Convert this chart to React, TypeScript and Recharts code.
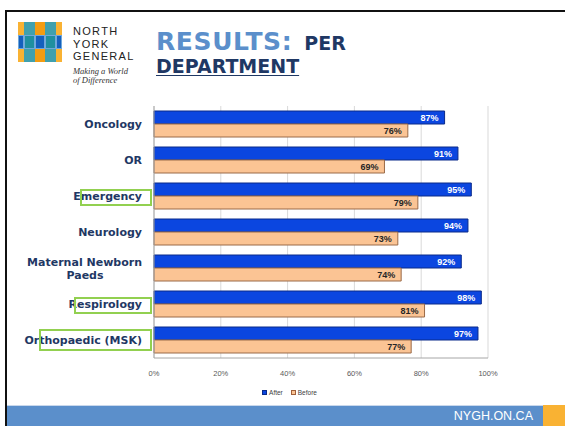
import React from 'react'
import { Bar, BarChart, CartesianGrid, LabelList, XAxis, YAxis } from 'recharts'

const departments = [
  'Oncology',
  'OR',
  'Emergency',
  'Neurology',
  'Maternal Newborn Paeds',
  'Respirology',
  'Orthopaedic (MSK)',
]
const afterValues = [87, 91, 95, 94, 92, 98, 97]
const beforeValues = [76, 69, 79, 73, 74, 81, 77]
const xTicks = [0, 20, 40, 60, 80, 100]

const data = departments.map((name, i) => ({
  name,
  after: afterValues[i],
  before: beforeValues[i],
}))

const NAVY = '#1f3864'
const BLUE_BAR = '#0b46e0'
const BEFORE_BAR = '#fbc494'
const SLIDE_BLUE = '#5b8fcb'
const GREEN = '#92d050'

const catFont = { fontFamily: 'DejaVu Sans', fontWeight: 700, fontSize: 11, fill: NAVY }

function CategoryTick({ x, y, payload }: any) {
  const v: string = payload.value
  if (v === 'Maternal Newborn Paeds') {
    return (
      <g>
        <text x={x} y={y - 6} dy={4} textAnchor="end" style={catFont}>
          Maternal Newborn
        </text>
        <text x={x - 57} y={y + 7} dy={4} textAnchor="middle" style={catFont}>
          Paeds
        </text>
      </g>
    )
  }
  return (
    <text x={x} y={y} dy={4} textAnchor="end" style={catFont}>
      {v}
    </text>
  )
}

function LegendBox() {
  const item = (color: string, border: string, label: string) => (
    <span style={{ display: 'inline-flex', alignItems: 'center', marginRight: 8 }}>
      <span
        style={{
          width: 5,
          height: 5,
          background: color,
          border: `1px solid ${border}`,
          marginRight: 2,
          boxSizing: 'border-box',
        }}
      />
      <span>{label}</span>
    </span>
  )
  return (
    <div
      style={{
        position: 'absolute',
        top: 389,
        left: 0,
        width: 565,
        display: 'flex',
        justifyContent: 'center',
        paddingLeft: 22,
        boxSizing: 'border-box',
        fontFamily: 'Liberation Sans',
        fontSize: 6.5,
        color: '#404040',
      }}
    >
      {item(BLUE_BAR, '#0a2a8a', 'After')}
      {item(BEFORE_BAR, '#a0603a', 'Before')}
    </div>
  )
}

function Logo() {
  const Y = '#f9b233'
  const O = '#f39c12'
  const T = '#1f8fa0'
  const B = '#1560bd'
  const L = '#6fa8dc'
  const rows = [
    [Y, T, O, T, Y],
    [B, T, B, T, B],
    [Y, T, O, T, Y],
  ]
  const colW = [6, 11, 10, 11, 6]
  const rowH = [13, 14, 13]
  return (
    <div style={{ position: 'absolute', left: 18, top: 22, width: 44, height: 40 }}>
      {rows.map((r, ri) => (
        <div key={ri} style={{ display: 'flex', height: rowH[ri] }}>
          {r.map((c, ci) => (
            <div
              key={ci}
              style={{
                width: colW[ci],
                height: rowH[ri],
                background: c,
                opacity: (ci === 1 || ci === 3) && ri !== 1 ? 0.85 : 1,
                boxShadow: ri === 1 ? `inset 0 0 0 1px ${L}` : 'none',
              }}
            />
          ))}
        </div>
      ))}
    </div>
  )
}

const logoLine = {
  position: 'absolute' as const,
  left: 73,
  fontFamily: 'Liberation Sans',
  fontSize: 11,
  letterSpacing: 1.3,
  lineHeight: '11px',
  color: '#222',
  whiteSpace: 'nowrap' as const,
}

export default function App() {
  return (
    <div
      style={{
        position: 'absolute',
        left: 0,
        top: 0,
        width: 565,
        height: 426,
        background: '#fff',
        overflow: 'hidden',
      }}
    >
      {/* slide frame */}
      <div style={{ position: 'absolute', left: 5, top: 10, width: 560, height: 2, background: '#111' }} />
      <div style={{ position: 'absolute', left: 5, top: 10, width: 2, height: 416, background: '#111' }} />

      <Logo />
      <div style={{ ...logoLine, top: 26 }}>NORTH</div>
      <div style={{ ...logoLine, top: 38.5 }}>YORK</div>
      <div style={{ ...logoLine, top: 51 }}>GENERAL</div>
      <div
        style={{
          position: 'absolute',
          left: 73,
          top: 67,
          fontFamily: 'Liberation Serif',
          fontStyle: 'italic',
          fontSize: 8.5,
          lineHeight: '8.5px',
          color: '#333',
        }}
      >
        Making a World
        <br />
        of Difference
      </div>

      <div
        style={{
          position: 'absolute',
          left: 156,
          top: 29,
          fontFamily: 'DejaVu Sans',
          fontWeight: 700,
          lineHeight: '25px',
          whiteSpace: 'nowrap',
        }}
      >
        <span style={{ fontSize: 25, color: SLIDE_BLUE, letterSpacing: 0.6 }}>RESULTS:</span>
        <span style={{ fontSize: 19, color: NAVY, marginLeft: 12 }}>PER</span>
      </div>
      <div
        style={{
          position: 'absolute',
          left: 156,
          top: 57,
          fontFamily: 'DejaVu Sans',
          fontWeight: 700,
          fontSize: 19,
          lineHeight: '19px',
          color: NAVY,
          textDecoration: 'underline',
          textDecorationThickness: 1,
          textUnderlineOffset: 2,
          whiteSpace: 'nowrap',
        }}
      >
        DEPARTMENT
      </div>

      <div style={{ position: 'absolute', left: 0, top: 0 }}>
        <BarChart
          width={565}
          height={426}
          data={data}
          layout="vertical"
          margin={{ top: 106, right: 77, left: 4, bottom: 48 }}
          barCategoryGap={10}
          barGap={0}
        >
          <CartesianGrid horizontal={false} stroke="#d9d9d9" />
          <XAxis
            type="number"
            domain={[0, 100]}
            ticks={xTicks}
            tickFormatter={(v) => `${v}%`}
            tick={{ fontSize: 7.5, fill: '#595959', fontFamily: 'Liberation Sans' }}
            tickLine={false}
            axisLine={{ stroke: '#a6a6a6' }}
            tickMargin={7}
            height={20}
          />
          <YAxis
            type="category"
            dataKey="name"
            width={150}
            tick={<CategoryTick />}
            tickLine={false}
            axisLine={{ stroke: '#a6a6a6' }}
            tickMargin={6}
            interval={0}
          />
          <Bar dataKey="after" fill={BLUE_BAR} stroke="#0a2a8a" strokeWidth={1} barSize={13} isAnimationActive={false}>
            <LabelList
              dataKey="after"
              position="insideRight"
              offset={6}
              formatter={(v: any) => `${v}%`}
              style={{ fill: '#fff', fontSize: 9, fontWeight: 700, fontFamily: 'Liberation Sans' }}
            />
          </Bar>
          <Bar dataKey="before" fill={BEFORE_BAR} stroke="#9a6a48" strokeWidth={1} barSize={13} isAnimationActive={false}>
            <LabelList
              dataKey="before"
              position="insideRight"
              offset={6}
              formatter={(v: any) => `${v}%`}
              style={{ fill: '#262626', fontSize: 9, fontWeight: 700, fontFamily: 'Liberation Sans' }}
            />
          </Bar>
        </BarChart>
      </div>

      {/* green highlight boxes */}
      <div style={{ position: 'absolute', left: 80, top: 189, width: 72, height: 17, border: `2px solid ${GREEN}`, boxSizing: 'border-box' }} />
      <div style={{ position: 'absolute', left: 74, top: 297, width: 78, height: 17, border: `2px solid ${GREEN}`, boxSizing: 'border-box' }} />
      <div style={{ position: 'absolute', left: 39, top: 329, width: 113, height: 22, border: `2px solid ${GREEN}`, boxSizing: 'border-box' }} />

      <LegendBox />

      {/* footer */}
      <div style={{ position: 'absolute', left: 7, top: 405, width: 536, height: 21, background: SLIDE_BLUE, borderTop: '1px solid #c9d8ec', boxSizing: 'border-box' }} />
      <div style={{ position: 'absolute', left: 543, top: 405, width: 22, height: 21, background: '#f9b233' }} />
      <div
        style={{
          position: 'absolute',
          right: 32,
          top: 409,
          fontFamily: 'Liberation Sans',
          fontSize: 12.5,
          color: '#fff',
        }}
      >
        NYGH.ON.CA
      </div>
    </div>
  )
}
